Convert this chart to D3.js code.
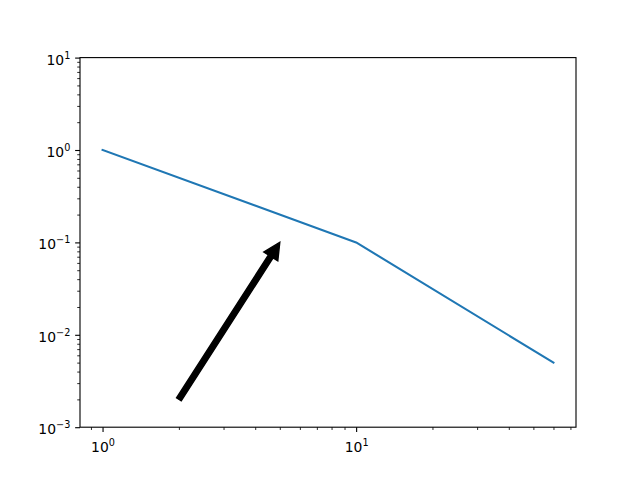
<!DOCTYPE html>
<html>
<head>
<meta charset="utf-8">
<script src="https://cdn.jsdelivr.net/npm/d3@7"></script>
<style>
  html, body { margin: 0; padding: 0; background: #fff; }
  svg { display: block; }
  text { font-family: "DejaVu Sans", sans-serif; }
</style>
</head>
<body>
<svg id="chart" width="640" height="480"></svg>
<script>
// ---- data ----
const xValues = [1, 10, 60];
const yValues = [1, 0.1, 0.005];
const arrowFrom = [2, 0.002];
const arrowTo = [5, 0.1];
const xMajorTicks = [1, 10];
const xMajorExp = ["0", "1"];
const yMajorTicks = [1e-3, 1e-2, 1e-1, 1, 10];
const yMajorExp = ["\u22123", "\u22122", "\u22121", "0", "1"];
const yLimits = [1e-3, 10];

// ---- layout ----
const W = 640, H = 480;
const L = 80, R = 576, T = 57.6, B = 427.2;
const pt = 100 / 72;

const svg = d3.select("#chart");

// matplotlib-like autoscale with 5% margin in log space
const lx0 = Math.log10(d3.min(xValues)), lx1 = Math.log10(d3.max(xValues));
const mx = (lx1 - lx0) * 0.05;
const x = d3.scaleLog().domain([Math.pow(10, lx0 - mx), Math.pow(10, lx1 + mx)]).range([L, R]);
const y = d3.scaleLog().domain(yLimits).range([B, T]);

// minor ticks
function minorTicks(scale) {
  const [d0, d1] = scale.domain();
  const out = [];
  for (let e = Math.floor(Math.log10(d0)); e <= Math.ceil(Math.log10(d1)); e++) {
    for (let m = 2; m <= 9; m++) {
      const v = m * Math.pow(10, e);
      if (v >= d0 && v <= d1) out.push(v);
    }
  }
  return out;
}

// data line
const line = d3.line().x((d, i) => x(xValues[i])).y((d, i) => y(yValues[i]));
svg.append("path")
  .datum(xValues)
  .attr("d", line)
  .attr("fill", "none")
  .attr("stroke", "#1f77b4")
  .attr("stroke-width", 1.5 * pt)
  .attr("stroke-linejoin", "round")
  .attr("stroke-linecap", "square");

// arrow (annotation)
(function () {
  const x0 = x(arrowFrom[0]), y0 = y(arrowFrom[1]);
  const x1 = x(arrowTo[0]), y1 = y(arrowTo[1]);
  const dx = x1 - x0, dy = y1 - y0;
  const len = Math.hypot(dx, dy);
  const ux = dx / len, uy = dy / len;
  const nx = -uy, ny = ux;
  const hw = 2 * pt, headW = 6 * pt, headL = 12 * pt;
  const bx = x1 - ux * headL, by = y1 - uy * headL;
  const pts = [
    [x0 + nx * hw, y0 + ny * hw],
    [bx + nx * hw, by + ny * hw],
    [bx + nx * headW, by + ny * headW],
    [x1, y1],
    [bx - nx * headW, by - ny * headW],
    [bx - nx * hw, by - ny * hw],
    [x0 - nx * hw, y0 - ny * hw]
  ];
  svg.append("path")
    .attr("d", "M" + pts.map(p => p.join(",")).join("L") + "Z")
    .attr("fill", "#000")
    .attr("stroke", "#000")
    .attr("stroke-width", 1 * pt)
    .attr("stroke-linejoin", "miter");
})();

// axes
function styleAxis(g, width) {
  g.select(".domain").remove();
  g.selectAll(".tick line").attr("stroke", "#000").attr("stroke-width", width);
}

// x minor
svg.append("g").attr("transform", `translate(0,${B})`)
  .call(d3.axisBottom(x).tickValues(minorTicks(x)).tickSize(2 * pt).tickFormat(""))
  .call(g => styleAxis(g, 0.6 * pt));
// x major
const gx = svg.append("g").attr("transform", `translate(0,${B})`)
  .call(d3.axisBottom(x).tickValues(xMajorTicks).tickSize(3.5 * pt).tickFormat(""))
  .call(g => styleAxis(g, 0.8 * pt));
gx.selectAll(".tick text").remove();
gx.selectAll(".tick").each(function (d, i) {
  const t = d3.select(this).append("text")
    .attr("x", 0).attr("y", 25.3)
    .attr("text-anchor", "middle")
    .attr("fill", "#000")
    .attr("font-size", "13.9px");
  t.append("tspan").text("10");
  t.append("tspan").attr("font-size", "9.7px").attr("dy", -6).text(xMajorExp[i]);
});

// y minor
svg.append("g").attr("transform", `translate(${L},0)`)
  .call(d3.axisLeft(y).tickValues(minorTicks(y)).tickSize(2 * pt).tickFormat(""))
  .call(g => styleAxis(g, 0.6 * pt));
// y major
const gy = svg.append("g").attr("transform", `translate(${L},0)`)
  .call(d3.axisLeft(y).tickValues(yMajorTicks).tickSize(3.5 * pt).tickFormat(""))
  .call(g => styleAxis(g, 0.8 * pt));
gy.selectAll(".tick text").remove();
gy.selectAll(".tick").each(function (d, i) {
  const t = d3.select(this).append("text")
    .attr("x", -9.7).attr("y", 6.5)
    .attr("text-anchor", "end")
    .attr("fill", "#000")
    .attr("font-size", "13.9px");
  t.append("tspan").text("10");
  t.append("tspan").attr("font-size", "9.7px").attr("dy", -6).text(yMajorExp[i]);
});

// frame
svg.append("rect")
  .attr("x", L).attr("y", T)
  .attr("width", R - L).attr("height", B - T)
  .attr("fill", "none")
  .attr("stroke", "#000")
  .attr("stroke-width", 0.8 * pt);
</script>
</body>
</html>
